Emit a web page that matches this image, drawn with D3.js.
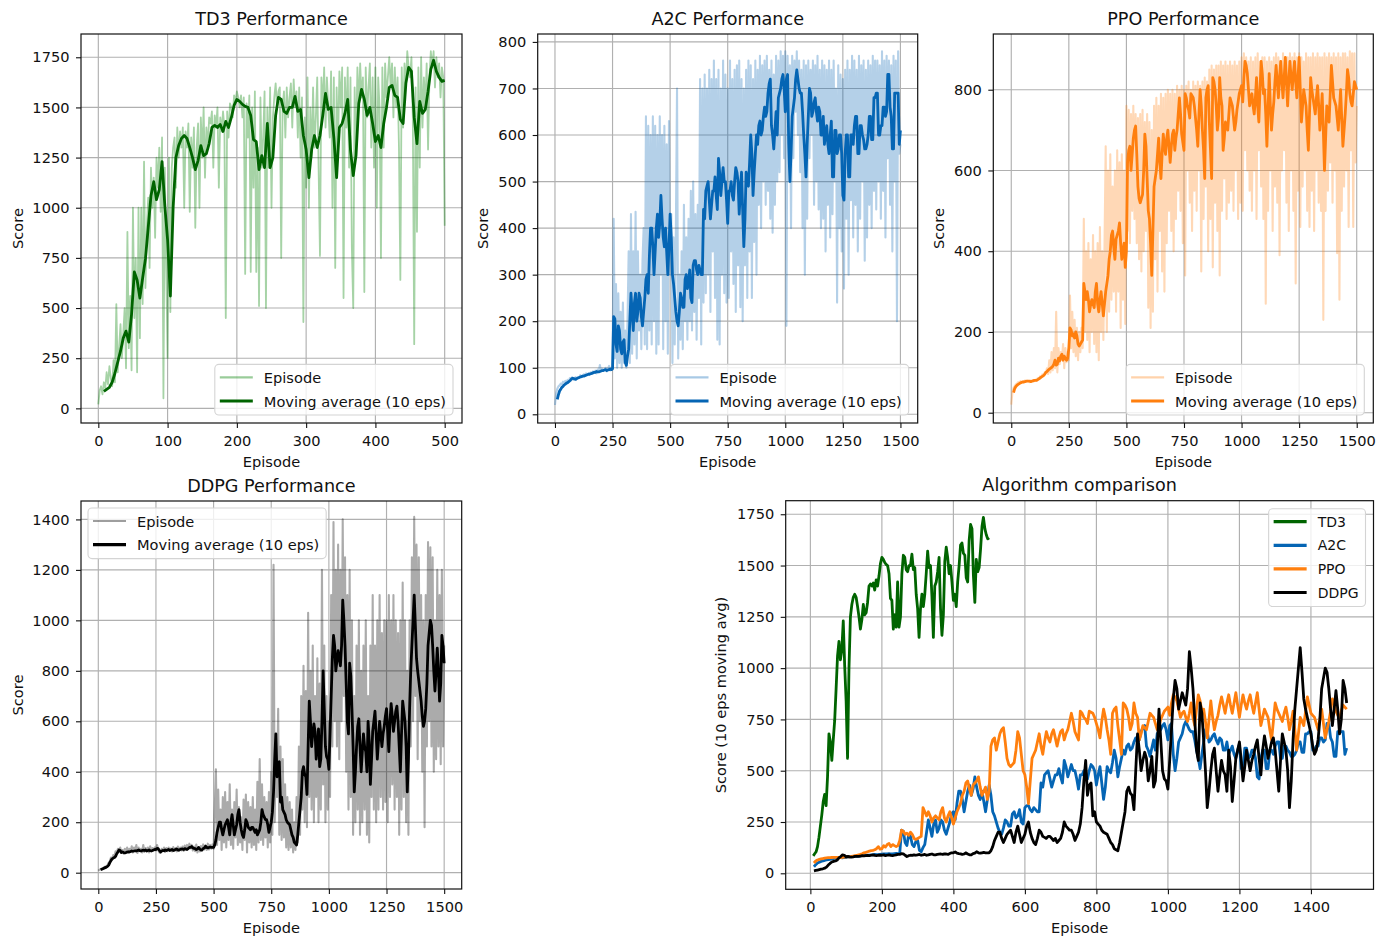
<!DOCTYPE html>
<html>
<head>
<meta charset="utf-8">
<script src="https://cdn.jsdelivr.net/npm/d3@7"></script>
<style>
  body { margin: 0; background: #fff; }
  svg { display: block; font-family: "DejaVu Sans", sans-serif; }
</style>
</head>
<body>
<svg id="fig" width="1392" height="941"></svg>
<script>
// ---------------------------------------------------------------------------
// Training scores per algorithm
// Raw episode scores (sampled every few episodes) and 10-episode moving averages
// ---------------------------------------------------------------------------

// TD3: raw every 2 episodes (0..500), moving average every 4 episodes (8..500)
const td3RawRange = [0, 500];
const td3Raw = [
  20, 90, 110, 70, 130, 100, 180, 120, 210, 150, 110,
  240, 130, 520, 180, 300, 420, 250, 370, 500, 200,
  880, 300, 560, 190, 1000, 450, 750, 180, 1000, 350,
  1000, 520, 1230, 600, 900, 1050, 700, 1200, 1000, 1150,
  850, 1250, 1100, 1300, 980, 1350, 50, 1200, 700, 250,
  1250, 480, 1200, 1300, 1350, 1100, 1400, 1250, 1380, 1300,
  1400, 1000, 1380, 1300, 1420, 980, 1350, 1200, 1400, 900,
  1300, 1420, 1000, 1450, 1250, 1500, 1150, 1400, 1300, 1450,
  1420, 1480, 1200, 1460, 1400, 1500, 1100, 1450, 1380, 1480,
  1400, 450, 1480, 1350, 1520, 1500, 1450, 1560, 1530, 1580,
  1550, 1500, 1560, 1450, 1550, 670, 1520, 1350, 1560, 680,
  1500, 1100, 1580, 680, 1300, 510, 1550, 1200, 1350, 1580,
  500, 1500, 1200, 1600, 1000, 1450, 1550, 1620, 1500, 1580,
  1600, 750, 1500, 1580, 1350, 1600, 1450, 1550, 1620, 1400,
  1640, 1500, 1580, 1350, 1600, 1250, 1550, 430, 1450, 1100,
  1650, 1000, 1500, 1250, 1600, 1300, 1450, 1650, 1200, 760,
  1650, 1500, 1700, 1400, 1650, 1500, 1350, 1680, 1000, 1650,
  700, 1600, 1300, 1680, 1500, 1700, 550, 1650, 1400, 1700,
  1200, 1650, 800, 500, 1600, 1300, 1700, 1500, 1720, 1550,
  1650, 580, 1700, 1450, 1600, 1720, 1300, 1650, 1200, 1700,
  1000, 1650, 1500, 750, 1700, 1300, 1720, 1550, 1650, 1750,
  1600, 1720, 1450, 1700, 1500, 1650, 1300, 640, 1700, 1400,
  1720, 1600, 1780, 1700, 1650, 1750, 1450, 320, 1600, 880,
  1700, 1200, 1750, 1400, 1650, 1500, 1720, 1290, 1650, 1780,
  1700, 1780, 1600, 1750, 1650, 1720, 1550, 1700, 1650, 910
];
const td3MaRange = [8, 500];
const td3Ma = [
  85, 95, 105, 130, 175, 230, 285, 350, 385, 330,
  470, 680, 640, 550, 650, 745, 900, 1060, 1130, 1040,
  1090, 1230, 1010, 840, 560, 1000, 1250, 1310, 1345, 1360,
  1345, 1300, 1250, 1190, 1235, 1310, 1260, 1270, 1320, 1400,
  1410, 1400, 1415, 1380, 1430, 1400, 1450, 1510, 1540, 1530,
  1515, 1505, 1500, 1460, 1340, 1330, 1190, 1260, 1200, 1420,
  1200, 1250, 1460, 1550, 1540, 1480, 1470, 1500, 1500, 1555,
  1480, 1490, 1360, 1290, 1150, 1290, 1360, 1300, 1360, 1460,
  1570, 1490, 1500, 1350, 1150, 1400, 1420, 1470, 1540, 1290,
  1160, 1260, 1520, 1590, 1540, 1460, 1500, 1420, 1330, 1360,
  1300, 1420, 1500, 1600, 1610, 1560, 1550, 1440, 1420, 1620,
  1700, 1680, 1450, 1320, 1530, 1470, 1490, 1580, 1690, 1735,
  1680, 1650, 1630, 1635
];

// A2C: raw every 5 episodes (0..1500), moving average every 5 episodes (10..1500)
const a2cRawRange = [0, 1500];
const a2cRaw = [
  20, 45, 55, 60, 62, 66, 64, 70, 68, 72,
  70, 74, 72, 78, 76, 80, 74, 78, 80, 76,
  80, 78, 84, 80, 82, 86, 84, 88, 85, 88,
  86, 90, 88, 92, 90, 94, 88, 96, 92, 106,
  92, 98, 94, 96, 100, 92, 98, 104, 94, 100,
  96, 420, 120, 280, 100, 260, 110, 220, 100, 240,
  110, 180, 100, 200, 350, 110, 430, 130, 350, 150,
  435, 120, 350, 180, 300, 140, 330, 400, 150, 640,
  140, 620, 180, 600, 150, 640, 200, 620, 130, 600,
  150, 640, 300, 600, 140, 620, 200, 580, 130, 630,
  300, 430, 110, 380, 150, 400, 700, 120, 300, 160,
  350, 140, 450, 200, 380, 160, 420, 200, 480, 180,
  500, 220, 430, 160, 450, 250, 720, 150, 700, 240,
  730, 260, 700, 300, 740, 220, 720, 350, 760, 250,
  720, 160, 740, 150, 700, 300, 760, 260, 730, 240,
  700, 250, 760, 350, 720, 280, 740, 220, 750, 320,
  760, 230, 720, 200, 700, 320, 740, 250, 760, 350,
  750, 250, 720, 370, 760, 300, 740, 450, 770, 400,
  750, 500, 760, 450, 770, 480, 740, 420, 760, 390,
  730, 450, 770, 500, 760, 520, 780, 600, 770, 550,
  780, 190, 770, 600, 750, 400, 770, 550, 760, 650,
  780, 600, 760, 520, 740, 400, 760, 300, 750, 420,
  760, 550, 740, 600, 760, 450, 750, 500, 770, 440,
  740, 400, 760, 420, 750, 350, 740, 450, 760, 380,
  740, 430, 760, 500, 700, 240, 750, 400, 730, 350,
  720, 270, 740, 420, 760, 300, 740, 460, 770, 380,
  760, 450, 740, 350, 770, 420, 750, 500, 760, 330,
  740, 380, 760, 450, 750, 400, 770, 480, 760, 440,
  760, 500, 750, 420, 780, 480, 760, 380, 770, 550,
  760, 450, 750, 350, 770, 500, 760, 200, 780, 560,
  580
];
const a2cMaRange = [10, 1500];
const a2cMa = [
  32, 42, 50, 54, 58, 60, 63, 65, 67, 68,
  70, 72, 75, 77, 77, 76, 75, 77, 78, 79,
  80, 81, 82, 82, 83, 84, 85, 86, 86, 87,
  88, 89, 90, 90, 92, 91, 91, 92, 93, 94,
  94, 95, 96, 94, 95, 96, 97, 96, 98, 210,
  205, 150, 135, 190, 180, 140, 130, 155, 160, 112,
  105, 125, 140, 200, 260, 220, 180, 240, 260, 200,
  220, 260, 250, 210, 190, 220, 250, 290, 300, 260,
  340, 400, 400, 360, 300, 350, 400, 430, 380, 410,
  470, 420, 380, 360, 400, 350, 300, 360, 430, 380,
  300, 280, 250, 220, 200, 190, 220, 260, 250, 230,
  230, 290, 300, 270, 280, 310, 250, 240, 320, 330,
  330, 310, 300, 320, 310, 300, 300, 440, 420, 480,
  490, 500, 460, 420, 450, 480, 480, 510, 470, 440,
  550, 520, 470, 500, 530, 500, 500, 460, 410, 480,
  480, 500, 470, 460, 500, 530, 520, 500, 430, 480,
  520, 440, 360, 420, 520, 500, 490, 540, 600, 560,
  470, 520, 560, 600, 580, 620, 630, 600, 610, 640,
  660, 640, 650, 690, 710, 720, 620, 600, 570, 610,
  650, 600, 680, 690, 700, 720, 730, 700, 650, 720,
  730, 580, 500, 560, 640, 660, 680, 720, 740, 720,
  700, 690, 690, 650, 600, 560, 510, 580, 640, 700,
  690, 640, 650, 670, 680, 650, 630, 660, 650, 600,
  600, 640, 580, 600, 620, 580, 560, 600, 630, 510,
  510, 610, 610, 560, 570, 600, 600, 560, 470, 460,
  560, 600, 600, 510, 510, 600, 600, 580, 620, 640,
  640, 560, 560, 620, 620, 600, 590, 570, 570, 580,
  600, 640, 640, 590, 590, 680, 680, 690, 690, 600,
  600, 620, 620, 660, 660, 640, 650, 730, 730, 660,
  640, 570, 570, 690, 690, 690, 690, 580, 610
];

// PPO: raw every 5 episodes (0..1500), moving average every 5 episodes (10..1500)
const ppoRawRange = [0, 1500];
const ppoRaw = [
  20, 50, 62, 66, 70, 72, 76, 74, 78, 76,
  78, 76, 80, 77, 79, 78, 76, 80, 79, 81,
  78, 82, 80, 86, 84, 90, 88, 95, 92, 100,
  98, 110, 96, 130, 100, 150, 105, 160, 110, 250,
  100, 160, 120, 150, 130, 170, 110, 160, 125, 150,
  130, 290, 160, 250, 150, 230, 140, 210, 130, 200,
  150, 210, 160, 480, 200, 400, 180, 420, 150, 380,
  200, 440, 170, 400, 150, 420, 130, 460, 200, 400,
  180, 420, 660, 200, 600, 250, 640, 280, 560, 300,
  600, 250, 650, 300, 620, 210, 640, 280, 600, 220,
  760, 450, 750, 420, 740, 500, 760, 480, 740, 420,
  730, 380, 740, 350, 750, 400, 720, 450, 740, 260,
  720, 210, 700, 250, 760, 380, 780, 300, 760, 450,
  790, 350, 780, 300, 790, 420, 800, 500, 790, 450,
  800, 400, 790, 480, 810, 550, 800, 500, 810, 420,
  800, 340, 810, 600, 820, 520, 800, 450, 820, 550,
  810, 500, 820, 600, 810, 350, 820, 480, 830, 560,
  820, 400, 850, 480, 860, 360, 850, 520, 860, 450,
  860, 340, 870, 500, 860, 580, 870, 480, 860, 520,
  870, 550, 860, 500, 870, 600, 860, 480, 870, 520,
  880, 500, 890, 650, 880, 600, 870, 550, 880, 500,
  870, 600, 880, 480, 890, 650, 870, 560, 880, 480,
  880, 270, 870, 500, 880, 600, 870, 450, 880, 560,
  890, 520, 880, 390, 870, 600, 890, 650, 880, 520,
  880, 450, 890, 600, 880, 500, 890, 320, 880, 550,
  890, 460, 880, 560, 870, 600, 890, 500, 880, 460,
  880, 550, 890, 450, 880, 600, 890, 520, 880, 500,
  880, 230, 890, 500, 880, 550, 890, 620, 880, 520,
  890, 600, 880, 395, 890, 280, 880, 500, 890, 560,
  890, 600, 880, 460, 895, 650, 890, 460, 890, 620,
  760
];
const ppoMaRange = [10, 1500];
const ppoMa = [
  50, 60, 65, 68, 70, 72, 74, 75, 76, 76,
  77, 78, 78, 78, 78, 77, 78, 79, 80, 80,
  80, 82, 84, 86, 88, 90, 92, 95, 100, 102,
  105, 108, 110, 112, 115, 120, 130, 118, 120, 135,
  128, 140, 145, 130, 140, 135, 130, 135, 160, 210,
  205, 190, 195, 185, 200, 190, 170, 165, 170, 175,
  180, 320, 300, 280, 300, 280, 250, 270, 280, 270,
  260, 300, 320, 270, 250, 280, 300, 270, 240, 270,
  300, 320, 340, 380, 400, 440, 450, 410, 380, 430,
  440, 450, 470, 420, 380, 400, 420, 360, 400, 620,
  650, 660, 600, 640, 680, 700, 710, 640, 560, 530,
  520, 530, 540, 600, 690, 660, 580, 500, 480, 420,
  340, 450, 560, 580, 600, 640, 680, 620, 580, 640,
  690, 660, 640, 680, 700, 660, 620, 660, 690, 700,
  650, 680, 700, 740, 780, 740, 690, 670, 650, 790,
  780, 760, 750, 730, 790, 785, 780, 760, 730, 700,
  660, 740, 800, 760, 700, 650, 580, 780, 800, 810,
  720, 650, 580, 830, 820, 800, 760, 700, 730, 830,
  780, 760, 650, 680, 720, 710, 700, 740, 780, 770,
  760, 730, 700, 720, 750, 770, 790, 800, 810, 770,
  830, 870, 860, 840, 800, 760, 780, 790, 760, 740,
  780, 830, 760, 720, 800, 870, 840, 790, 800, 740,
  660, 750, 840, 760, 700, 740, 770, 820, 860, 820,
  780, 830, 870, 820, 780, 830, 880, 820, 760, 820,
  870, 830, 800, 840, 870, 820, 780, 830, 880, 800,
  720, 760, 800, 780, 760, 700, 650, 740, 830, 800,
  780, 760, 740, 780, 810, 760, 700, 740, 790, 700,
  600, 680, 760, 740, 720, 790, 860, 820, 780, 770,
  760, 730, 700, 750, 800, 730, 660, 700, 740, 790,
  850, 830, 790, 770, 760, 790, 820, 810, 800
];

// DDPG: raw every 5 episodes (0..1500), moving average every 5 episodes (10..1500)
const ddpgRawRange = [0, 1500];
const ddpgRaw = [
  8, 12, 14, 16, 18, 20, 24, 22, 30, 40,
  45, 60, 50, 70, 65, 85, 80, 95, 85, 100,
  78, 90, 75, 95, 80, 100, 78, 95, 82, 105,
  80, 100, 85, 110, 78, 100, 85, 95, 80, 110,
  82, 98, 85, 100, 80, 105, 86, 98, 90, 100,
  88, 110, 90, 80, 78, 95, 85, 100, 82, 98,
  85, 100, 88, 96, 84, 102, 86, 98, 84, 104,
  86, 100, 88, 104, 86, 108, 90, 110, 94, 115,
  96, 110, 88, 104, 85, 112, 80, 100, 84, 106,
  88, 112, 92, 108, 90, 115, 92, 110, 95, 112,
  95, 250, 410, 110, 330, 130, 250, 90, 300, 120,
  320, 100, 280, 130, 350, 110, 250, 95, 280, 140,
  330, 110, 260, 120, 220, 90, 290, 130, 310, 80,
  280, 120, 260, 100, 300, 110, 250, 90, 360, 120,
  450, 130, 350, 110, 300, 140, 280, 100, 320, 120,
  400, 150, 1220, 200, 520, 300, 650, 150, 500, 130,
  450, 140, 350, 100, 300, 90, 280, 100, 250, 80,
  200, 90, 300, 120, 500, 150, 700, 250, 820, 200,
  720, 180, 1030, 300, 800, 250, 900, 200, 700, 300,
  850, 200, 750, 250, 1200, 350, 900, 200, 700, 250,
  600, 300, 1100, 500, 1390, 600, 1200, 500, 1300, 450,
  1200, 600, 1400, 700, 1250, 400, 1100, 250, 1200, 300,
  1000, 150, 700, 200, 900, 250, 1000, 150, 800, 200,
  900, 250, 1000, 150, 700, 120, 900, 300, 1100, 250,
  900, 200, 1000, 250, 1100, 300, 950, 250, 1000, 280,
  1000, 200, 1100, 300, 1000, 350, 1100, 250, 1000, 300,
  950, 150, 1000, 250, 1150, 300, 1000, 200, 800, 150,
  1000, 500, 1250, 600, 1410, 700, 1300, 450, 1250, 600,
  1100, 400, 1000, 180, 1100, 500, 1310, 600, 1290, 500,
  1250, 400, 1000, 450, 1200, 500, 1100, 430, 1200, 500,
  900
];
const ddpgMaRange = [10, 1500];
const ddpgMa = [
  12, 14, 16, 18, 20, 22, 25, 30, 40, 48,
  55, 58, 60, 65, 75, 82, 90, 88, 80, 82,
  80, 79, 80, 82, 83, 82, 84, 86, 85, 86,
  87, 86, 88, 90, 87, 86, 88, 89, 88, 90,
  86, 88, 90, 87, 86, 88, 90, 92, 92, 96,
  95, 88, 82, 86, 88, 87, 90, 88, 90, 92,
  88, 90, 92, 88, 90, 92, 94, 90, 90, 92,
  93, 94, 92, 95, 94, 92, 96, 100, 100, 104,
  98, 96, 95, 92, 94, 100, 94, 90, 90, 96,
  98, 105, 100, 98, 100, 102, 100, 100, 100, 110,
  130, 160, 180, 200, 200, 170, 150, 170, 190, 200,
  210, 180, 150, 200, 230, 190, 150, 170, 190, 230,
  250, 200, 170, 150, 140, 170, 210, 200, 180, 175,
  170, 180, 180, 170, 160, 170, 150, 160, 170, 200,
  250, 230, 220, 210, 210, 190, 160, 180, 200, 240,
  320, 450, 550, 380, 430, 440, 280, 300, 250, 240,
  230, 210, 200, 195, 190, 170, 150, 140, 120, 115,
  110, 150, 200, 250, 300, 400, 420, 390, 380, 310,
  500, 680, 600, 500, 550, 590, 560, 450, 500, 570,
  420, 450, 600, 800, 650, 500, 460, 450, 410, 550,
  700, 850, 940, 900, 800, 840, 880, 850, 820, 900,
  1080, 1000, 900, 750, 600, 550, 830, 780, 650, 500,
  320, 400, 500, 580, 610, 500, 400, 480, 550, 500,
  480, 400, 600, 520, 350, 450, 560, 600, 640, 550,
  450, 520, 600, 550, 500, 550, 580, 620, 650, 560,
  480, 600, 670, 620, 560, 600, 640, 660, 600, 500,
  400, 550, 680, 640, 600, 500, 320, 450, 650, 800,
  900, 1000, 1100, 980, 850, 800, 760, 720, 680, 620,
  580, 600, 650, 750, 900, 950, 1000, 980, 900, 800,
  720, 800, 890, 800, 680, 750, 940, 900, 830
];

// Axis ticks
const td3XTicks = [0, 100, 200, 300, 400, 500];
const td3YTicks = [0, 250, 500, 750, 1000, 1250, 1500, 1750];
const longXTicks = [0, 250, 500, 750, 1000, 1250, 1500];
const a2cYTicks = [0, 100, 200, 300, 400, 500, 600, 700, 800];
const ppoYTicks = [0, 200, 400, 600, 800];
const ddpgYTicks = [0, 200, 400, 600, 800, 1000, 1200, 1400];
const cmpXTicks = [0, 200, 400, 600, 800, 1000, 1200, 1400];
const cmpYTicks = [0, 250, 500, 750, 1000, 1250, 1500, 1750];

const algoNames = ["TD3", "A2C", "PPO", "DDPG"];
const legendLabels = ["Episode", "Moving average (10 eps)"];

// ---------------------------------------------------------------------------
// Styling
// ---------------------------------------------------------------------------
const colors = { TD3: "#006400", A2C: "#0565b4", PPO: "#ff7f0e", DDPG: "#000000" };
const rawColors = { TD3: "#008000", A2C: "#0565b4", PPO: "#ff7f0e", DDPG: "#000000" };
const rawOpacity = { TD3: 0.35, A2C: 0.3, PPO: 0.3, DDPG: 0.33 };
const rawWidth = { TD3: 1.8, A2C: 2.1, PPO: 2.1, DDPG: 2.1 };
const TICK_FS = 14.6, TITLE_FS = 17.6;
const MA_W = 2.8;

const svg = d3.select("#fig");
const intFormat = d3.format("d");

// pair a series of values with evenly spaced episode numbers
function withEpisodes(values, range) {
  const n = values.length;
  const step = (range[1] - range[0]) / (n - 1);
  return values.map((v, i) => [range[0] + i * step, v]);
}

let clipId = 0;

function makeAxes(cfg) {
  const f = cfg.frame;
  const g = svg.append("g");
  const x = d3.scaleLinear().domain(cfg.xDomain).range([f.x0, f.x1]);
  const y = d3.scaleLinear().domain(cfg.yDomain).range([f.y1, f.y0]);

  // grid
  const grid = g.append("g").attr("stroke", "#b0b0b0").attr("stroke-width", 1.15);
  grid.selectAll("line.gx").data(cfg.xTicks).join("line").attr("class", "gx")
    .attr("x1", d => x(d)).attr("x2", d => x(d))
    .attr("y1", f.y0).attr("y2", f.y1);
  grid.selectAll("line.gy").data(cfg.yTicks).join("line").attr("class", "gy")
    .attr("x1", f.x0).attr("x2", f.x1)
    .attr("y1", d => y(d)).attr("y2", d => y(d));

  // axes with ticks and labels
  const xa = g.append("g").attr("transform", `translate(0,${f.y1})`)
    .call(d3.axisBottom(x).tickValues(cfg.xTicks).tickFormat(intFormat)
      .tickSize(5).tickPadding(7.5).tickSizeOuter(0));
  const ya = g.append("g").attr("transform", `translate(${f.x0},0)`)
    .call(d3.axisLeft(y).tickValues(cfg.yTicks).tickFormat(intFormat)
      .tickSize(5).tickPadding(6.5).tickSizeOuter(0));
  [xa, ya].forEach(a => {
    a.select(".domain").remove();
    a.attr("font-family", null).attr("font-size", null);
    a.selectAll("text").attr("font-size", TICK_FS).attr("fill", "#111");
    a.selectAll("line").attr("stroke", "#111").attr("stroke-width", 1.1);
  });

  // clip region for plotted lines
  const id = "clip" + (clipId++);
  g.append("clipPath").attr("id", id).append("rect")
    .attr("x", f.x0).attr("y", f.y0).attr("width", f.x1 - f.x0).attr("height", f.y1 - f.y0);
  const plot = g.append("g").attr("clip-path", `url(#${id})`);

  // title and axis labels
  g.append("text").attr("x", (f.x0 + f.x1) / 2).attr("y", f.y0 - 9.3)
    .attr("text-anchor", "middle").attr("font-size", TITLE_FS).attr("fill", "#111").text(cfg.title);
  g.append("text").attr("x", (f.x0 + f.x1) / 2).attr("y", f.y1 + 44)
    .attr("text-anchor", "middle").attr("font-size", TICK_FS).attr("fill", "#111").text("Episode");
  g.append("text")
    .attr("transform", `translate(${f.x0 - cfg.yLabelOffset},${(f.y0 + f.y1) / 2}) rotate(-90)`)
    .attr("text-anchor", "middle").attr("dominant-baseline", "central")
    .attr("font-size", TICK_FS).attr("fill", "#111").text(cfg.yLabel);

  return { g, x, y, plot, f };
}

function drawFrame(ax) {
  const f = ax.f;
  ax.g.append("rect").attr("x", f.x0).attr("y", f.y0)
    .attr("width", f.x1 - f.x0).attr("height", f.y1 - f.y0)
    .attr("fill", "none").attr("stroke", "#111").attr("stroke-width", 1.2);
}

function drawLegend(ax, items, pos) {
  const f = ax.f;
  const rowH = 23.6, pad = 12;
  const tmp = ax.g.append("g");
  let maxW = 0;
  items.forEach(it => {
    const t = tmp.append("text").attr("font-size", pos.fs || TICK_FS).text(it.label);
    maxW = Math.max(maxW, t.node().getComputedTextLength());
  });
  tmp.remove();
  const w = 49 + maxW + 7;
  const h = pad * 2 + rowH * (items.length - 1) + 3;
  let bx, by;
  if (pos.corner === "lower right") { bx = f.x1 - 9 - w; by = f.y1 - 8 - h; }
  else if (pos.corner === "upper right") { bx = f.x1 - 8 - w; by = f.y0 + 8; }
  else { bx = f.x0 + 7; by = f.y0 + 7; }
  const lg = ax.g.append("g");
  lg.append("rect").attr("x", bx).attr("y", by).attr("width", w).attr("height", h)
    .attr("rx", 4).attr("fill", "#fff").attr("fill-opacity", 0.8)
    .attr("stroke", "#d4d4d4").attr("stroke-width", 1.1);
  items.forEach((it, i) => {
    const cy = by + pad + 1 + i * rowH;
    lg.append("line").attr("x1", bx + 5).attr("x2", bx + 38).attr("y1", cy).attr("y2", cy)
      .attr("stroke", it.color).attr("stroke-opacity", it.opacity)
      .attr("stroke-width", it.width);
    lg.append("text").attr("x", bx + 49).attr("y", cy).attr("dominant-baseline", "central")
      .attr("font-size", pos.fs || TICK_FS).attr("fill", "#111").text(it.label);
  });
}

function lineGen(ax) {
  return d3.line().x(d => ax.x(d[0])).y(d => ax.y(d[1]));
}

// ---------------------------------------------------------------------------
// Individual algorithm panels
// ---------------------------------------------------------------------------
const panels = [
  { name: "TD3", title: "TD3 Performance", raw: td3Raw, rawRange: td3RawRange, ma: td3Ma, maRange: td3MaRange,
    frame: { x0: 81, x1: 462, y0: 34, y1: 423 }, xDomain: [-25, 525], yDomain: [-73, 1866],
    xTicks: td3XTicks, yTicks: td3YTicks, yLabelOffset: 64, legend: "lower right" },
  { name: "A2C", title: "A2C Performance", raw: a2cRaw, rawRange: a2cRawRange, ma: a2cMa, maRange: a2cMaRange,
    frame: { x0: 537.7, x1: 917.7, y0: 34, y1: 423 }, xDomain: [-75, 1575], yDomain: [-18.7, 817],
    xTicks: longXTicks, yTicks: a2cYTicks, yLabelOffset: 55, legend: "lower right" },
  { name: "PPO", title: "PPO Performance", raw: ppoRaw, rawRange: ppoRawRange, ma: ppoMa, maRange: ppoMaRange,
    frame: { x0: 993.3, x1: 1373.3, y0: 34, y1: 423 }, xDomain: [-78, 1572], yDomain: [-25.5, 938],
    xTicks: longXTicks, yTicks: ppoYTicks, yLabelOffset: 55, legend: "lower right" },
  { name: "DDPG", title: "DDPG Performance", raw: ddpgRaw, rawRange: ddpgRawRange, ma: ddpgMa, maRange: ddpgMaRange,
    frame: { x0: 81, x1: 461.7, y0: 501, y1: 889 }, xDomain: [-75, 1576], yDomain: [-64.6, 1473],
    xTicks: longXTicks, yTicks: ddpgYTicks, yLabelOffset: 64, legend: "upper left" }
];

panels.forEach(p => {
  const ax = makeAxes({ ...p, yLabel: "Score" });
  const line = lineGen(ax);
  ax.plot.append("path").datum(withEpisodes(p.raw, p.rawRange))
    .attr("d", line).attr("fill", "none")
    .attr("stroke", rawColors[p.name]).attr("stroke-opacity", rawOpacity[p.name])
    .attr("stroke-width", rawWidth[p.name]).attr("stroke-linejoin", "round");
  ax.plot.append("path").datum(withEpisodes(p.ma, p.maRange))
    .attr("d", line).attr("fill", "none")
    .attr("stroke", colors[p.name]).attr("stroke-width", MA_W)
    .attr("stroke-linejoin", "round");
  drawFrame(ax);
  drawLegend(ax, [
    { label: legendLabels[0], color: rawColors[p.name], opacity: rawOpacity[p.name] + 0.05, width: 2.2 },
    { label: legendLabels[1], color: colors[p.name], opacity: 1, width: MA_W + 0.4 }
  ], { corner: p.legend });
});

// ---------------------------------------------------------------------------
// Comparison of moving averages
// ---------------------------------------------------------------------------
const cmp = makeAxes({
  title: "Algorithm comparison",
  frame: { x0: 785.7, x1: 1373.5, y0: 500.7, y1: 889.3 },
  xDomain: [-69, 1575], yDomain: [-78, 1816],
  xTicks: cmpXTicks, yTicks: cmpYTicks, yLabelOffset: 65,
  yLabel: "Score (10 eps moving avg)"
});
const cmpLine = lineGen(cmp);
const cmpSeries = [
  { name: "TD3", values: td3Ma, range: td3MaRange },
  { name: "A2C", values: a2cMa, range: a2cMaRange },
  { name: "PPO", values: ppoMa, range: ppoMaRange },
  { name: "DDPG", values: ddpgMa, range: ddpgMaRange }
];
cmpSeries.forEach(s => {
  cmp.plot.append("path").datum(withEpisodes(s.values, s.range))
    .attr("d", cmpLine).attr("fill", "none")
    .attr("stroke", colors[s.name]).attr("stroke-width", MA_W)
    .attr("stroke-linejoin", "round");
});
drawFrame(cmp);
drawLegend(cmp, algoNames.map(n => ({ label: n, color: colors[n], opacity: 1, width: MA_W + 0.4 })),
  { corner: "upper right", fs: 14 });
</script>
</body>
</html>
